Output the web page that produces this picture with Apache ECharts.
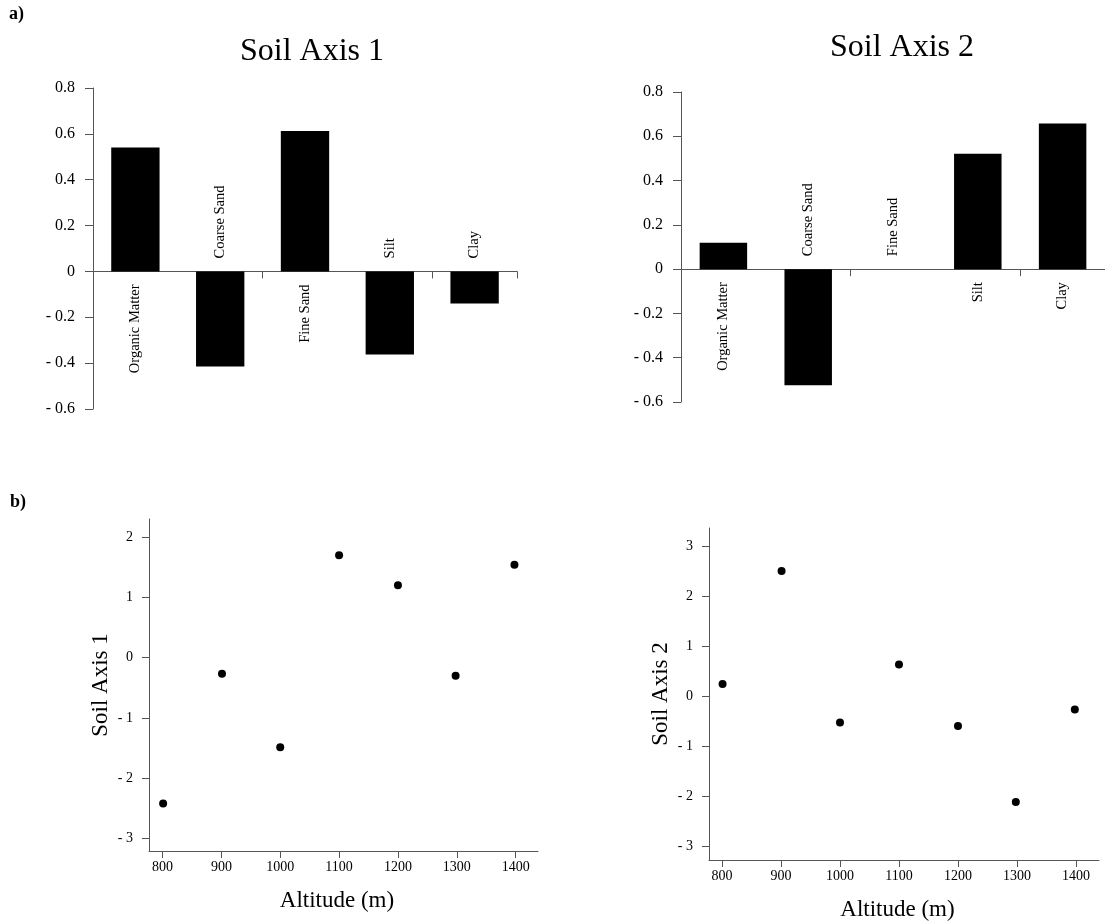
<!DOCTYPE html>
<html>
<head>
<meta charset="utf-8">
<script src="https://cdn.jsdelivr.net/npm/echarts@6/dist/echarts.min.js"></script>
<style>
  html, body { margin: 0; padding: 0; background: #fff; }
  #main { width: 1105px; height: 924px; }
</style>
</head>
<body>
<div id="main"></div>
<script>
// data
var categories = ['Organic Matter', 'Coarse Sand', 'Fine Sand', 'Silt', 'Clay'];
var soil1Loadings = [0.54, -0.415, 0.613, -0.362, -0.14];
var soil2Loadings = [0.119, -0.524, 0, 0.521, 0.658];

var altitudes = [801, 901, 1000, 1100, 1200, 1298, 1398];
var soil1Scores = [-2.42, -0.27, -1.49, 1.70, 1.20, -0.30, 1.54];
var soil2Scores = [0.25, 2.51, -0.52, 0.64, -0.59, -2.11, -0.26];

var loadingTicks = [-0.6, -0.4, -0.2, 0, 0.2, 0.4, 0.6, 0.8];
var altitudeTicks = [800, 900, 1000, 1100, 1200, 1300, 1400];
var score1Ticks = [-3, -2, -1, 0, 1, 2];
var score2Ticks = [-3, -2, -1, 0, 1, 2, 3];

var serif = 'Liberation Serif';
var axisColor = '#555';

function minusFmt(v) {
    return v < 0 ? '- ' + Math.abs(v) : String(v);
}

// bar labels sit on the other side of the zero line
function barData(values) {
    return values.map(function (v) {
        var up = v <= 0;
        return {
            value: v,
            label: {
                position: up ? 'top' : 'bottom',
                align: up ? 'left' : 'right'
            }
        };
    });
}

function barXAxis(idx) {
    return {
        type: 'category',
        gridIndex: idx,
        data: categories,
        axisLine: { onZero: true, lineStyle: { color: axisColor, width: 1 } },
        axisTick: { show: true, length: 7, lineStyle: { color: axisColor } },
        axisLabel: { show: false },
        splitLine: { show: false }
    };
}

function barYAxis(idx) {
    return {
        type: 'value',
        gridIndex: idx,
        min: -0.6,
        max: 0.8,
        axisLine: { show: true, lineStyle: { color: axisColor, width: 1 } },
        axisTick: { show: true, length: 8, customValues: loadingTicks, lineStyle: { color: axisColor } },
        axisLabel: {
            customValues: loadingTicks,
            formatter: minusFmt,
            margin: 18,
            fontFamily: serif,
            fontSize: 16,
            color: '#000'
        },
        splitLine: { show: false }
    };
}

function scatterXAxis(idx, min, max) {
    return {
        type: 'value',
        gridIndex: idx,
        min: min,
        max: max,
        name: 'Altitude (m)',
        nameLocation: 'middle',
        nameGap: 38,
        nameTextStyle: { fontFamily: serif, fontSize: 23, color: '#000', padding: [0, 13, 0, 0] },
        axisLine: { onZero: false, lineStyle: { color: axisColor, width: 1 } },
        axisTick: { show: true, length: 7, customValues: altitudeTicks, lineStyle: { color: axisColor } },
        axisLabel: {
            customValues: altitudeTicks,
            formatter: function (v) { return String(v); },
            margin: 9,
            fontFamily: serif,
            fontSize: 14,
            color: '#000'
        },
        splitLine: { show: false }
    };
}

function scatterYAxis(idx, min, max, name, ticks) {
    return {
        type: 'value',
        gridIndex: idx,
        min: min,
        max: max,
        name: name,
        nameLocation: 'middle',
        nameGap: 37,
        nameTextStyle: { fontFamily: serif, fontSize: 23, color: '#000' },
        axisLine: { onZero: false, lineStyle: { color: axisColor, width: 1 } },
        axisTick: { show: true, length: 7, customValues: ticks, lineStyle: { color: axisColor } },
        axisLabel: {
            customValues: ticks,
            formatter: minusFmt,
            margin: 16,
            fontFamily: serif,
            fontSize: 14,
            color: '#000'
        },
        splitLine: { show: false }
    };
}

var barLabel = {
    show: true,
    formatter: '{b}',
    rotate: 90,
    distance: 13,
    verticalAlign: 'middle',
    fontFamily: serif,
    fontSize: 14.5,
    color: '#000'
};

function pairs(xs, ys) {
    return xs.map(function (x, i) { return [x, ys[i]]; });
}

var chart = echarts.init(document.getElementById('main'));

var option = {
    backgroundColor: '#fff',
    animation: false,
    textStyle: { fontFamily: serif },
    graphic: [
        { type: 'text', x: 9, y: 14, style: { text: 'a)', font: 'bold 18px "Liberation Serif"', fill: '#000', verticalAlign: 'middle' } },
        { type: 'text', x: 10, y: 502, style: { text: 'b)', font: 'bold 18px "Liberation Serif"', fill: '#000', verticalAlign: 'middle' } },
        { type: 'text', x: 312, y: 52, style: { text: 'Soil Axis 1', font: '32px "Liberation Serif"', fill: '#000', align: 'center', verticalAlign: 'middle' } },
        { type: 'text', x: 902, y: 48, style: { text: 'Soil Axis 2', font: '32px "Liberation Serif"', fill: '#000', align: 'center', verticalAlign: 'middle' } }
    ],
    grid: [
        { left: 93, top: 88, width: 424, height: 321 },
        { left: 681, top: 92, width: 424, height: 310 },
        { left: 149, top: 519, width: 389, height: 332 },
        { left: 709, top: 528, width: 390, height: 332 }
    ],
    xAxis: [
        barXAxis(0),
        barXAxis(1),
        scatterXAxis(2, 777, 1438),
        scatterXAxis(3, 778, 1439)
    ],
    yAxis: [
        barYAxis(0),
        barYAxis(1),
        scatterYAxis(2, -3.21, 2.30, 'Soil Axis 1', score1Ticks),
        scatterYAxis(3, -3.27, 3.37, 'Soil Axis 2', score2Ticks)
    ],
    series: [
        {
            type: 'bar', xAxisIndex: 0, yAxisIndex: 0,
            data: barData(soil1Loadings),
            barWidth: '57%',
            itemStyle: { color: '#000' },
            label: barLabel
        },
        {
            type: 'bar', xAxisIndex: 1, yAxisIndex: 1,
            data: barData(soil2Loadings),
            barWidth: '56%',
            itemStyle: { color: '#000' },
            label: barLabel
        },
        {
            type: 'scatter', xAxisIndex: 2, yAxisIndex: 2,
            data: pairs(altitudes, soil1Scores),
            symbolSize: 8,
            itemStyle: { color: '#000', opacity: 1 }
        },
        {
            type: 'scatter', xAxisIndex: 3, yAxisIndex: 3,
            data: pairs(altitudes, soil2Scores),
            symbolSize: 8,
            itemStyle: { color: '#000', opacity: 1 }
        }
    ]
};

chart.setOption(option);

window.addEventListener('resize', function () {
    chart.resize();
});
</script>
</body>
</html>
